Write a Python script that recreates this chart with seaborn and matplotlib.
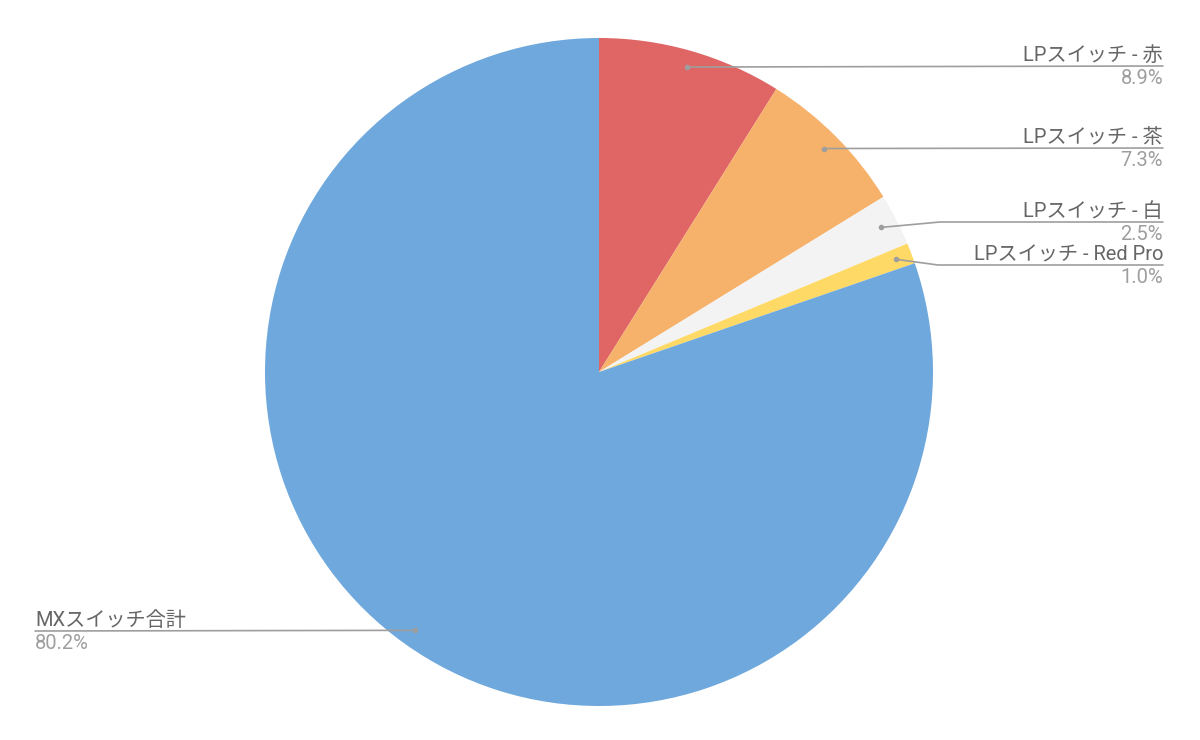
import numpy as np
import seaborn as sns
import matplotlib
matplotlib.use("Agg")
import matplotlib.pyplot as plt

labels = ["LPスイッチ - 赤", "LPスイッチ - 茶", "LPスイッチ - 白", "LPスイッチ - Red Pro", "MXスイッチ合計"]
values = [8.9, 7.3, 2.5, 1.0, 80.2]
pct_text = ["8.9%", "7.3%", "2.5%", "1.0%", "80.2%"]
colors = ["#E06666", "#F6B26B", "#F3F3F3", "#FFD966", "#6FA8DC"]

sns.set_theme(style="white")
plt.rcParams["font.family"] = ["Roboto", "Noto Sans CJK JP", "DejaVu Sans"]

W, H = 1200, 740
fig = plt.figure(figsize=(12, 7.4), dpi=100)
ax = fig.add_axes([0, 0, 1, 1])

cx, cy, R = 599, 368, 334
wedges, _ = ax.pie(values, colors=colors, startangle=90, counterclock=False,
                   center=(cx, cy), radius=R, frame=True,
                   wedgeprops=dict(linewidth=0))
ax.set_xlim(0, W)
ax.set_ylim(0, H)
ax.set_aspect("equal")
ax.axis("off")

# leader line layout: y of label line, x of bend (None = straight), side
line_y = [674, 592, 518, 475, 109]
bend_x = [None, None, 940, 938, None]
side = ["r", "r", "r", "r", "l"]
line_c = "#9E9E9E"

for w, lab, pct, ly, bx, sd in zip(wedges, labels, pct_text, line_y, bend_x, side):
    ang = np.deg2rad((w.theta1 + w.theta2) / 2)
    px = cx + 0.95 * R * np.cos(ang)
    py = cy + 0.95 * R * np.sin(ang)
    ax.plot([px], [py], "o", color=line_c, ms=3, zorder=5)
    if sd == "r":
        xs = [px, bx, 1163] if bx else [px, 1163]
        ys = [py, ly, ly] if bx else [py, ly]
        tx, ha = 1163, "right"
    else:
        xs = [px, 35]
        ys = [py, ly]
        tx, ha = 35, "left"
    ax.plot(xs, ys, color=line_c, lw=1.2, zorder=4)
    ax.text(tx, ly + 1, lab, ha=ha, va="bottom", fontsize=14.5, color="#666666")
    ax.text(tx, ly - 3, pct, ha=ha, va="top", fontsize=14.5, color="#9E9E9E")

fig.savefig("out.png", dpi=100, facecolor="white")
